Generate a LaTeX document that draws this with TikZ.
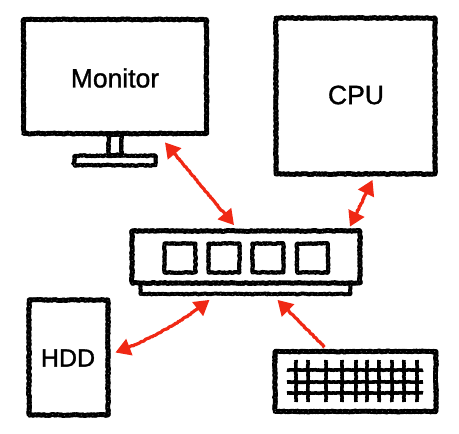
\documentclass[tikz,border=0pt]{standalone}
\usepackage{fontspec}
\setmainfont{Liberation Sans}
\newfontfamily\lblfont[FakeBold=1.2]{Liberation Sans}
\usetikzlibrary{arrows.meta,calc,decorations.pathmorphing}
\definecolor{redink}{RGB}{240,40,20}
\tikzset{
  sketch/.style={draw=black,line width=#1,line join=round,decorate,decoration={random steps,segment length=1.3pt,amplitude=0.55pt},
    preaction={draw=black,line width=#1-0.6pt,line join=round,decorate,decoration={random steps,segment length=3pt,amplitude=0.3pt}},
    postaction={draw=white,opacity=.5,line width=.6pt,dash pattern=on .8pt off 5.3pt,decorate,decoration={random steps,segment length=2pt,amplitude=1.1pt}}},
  sketch/.default=4.8pt,
  boxnode/.style={sketch,rectangle,inner sep=0pt},
  lbl/.style={font=\lblfont\fontsize{26.5}{30}\selectfont,text=black},
  twohead/.style={draw=redink,line width=3.2pt,line join=round,decorate,decoration={random steps,segment length=1.5pt,amplitude=0.45pt,pre length=13pt,post length=13pt},{Triangle[length=15pt,width=17pt,fill=redink]}-{Triangle[length=15pt,width=17pt,fill=redink]}},
  onehead/.style={draw=redink,line width=3.2pt,line join=round,decorate,decoration={random steps,segment length=1.5pt,amplitude=0.45pt,pre length=13pt},{Triangle[length=15pt,width=17pt,fill=redink]}-},
  keyline/.style={draw=black,line width=3.6pt,line join=round,decorate,decoration={random steps,segment length=1.5pt,amplitude=0.3pt}}
}
\begin{document}
\begin{tikzpicture}[x=1pt,y=-1pt]
\useasboundingbox (0,0) rectangle (459,434);
% Boxes
\node[boxnode,minimum width=183pt,minimum height=114pt] (monitor) at (115,76.5) {};
\node[lbl] (montext) at (115,78) {Monitor};
\node[boxnode,minimum width=159pt,minimum height=156pt] (cpu) at (355.5,96) {};
\node[lbl] (cputext) at (356,95) {CPU};
\node[boxnode,minimum width=79pt,minimum height=115pt] (hdd) at (68.5,357.5) {};
\node[lbl,font=\lblfont\fontsize{25}{30}\selectfont] (hddtext) at (68,358) {HDD};
\node[boxnode,minimum width=161pt,minimum height=60pt] (kbd) at (355.5,381.5) {};
% Monitor stand
\node[sketch=4.2pt,minimum width=13pt,minimum height=20pt,inner sep=0pt] (neck) at (115,145) {};
\node[sketch=4pt,minimum width=81pt,minimum height=9.5pt,inner sep=0pt] (stand) at (115,160.5) {};
% RAM
\node[sketch=3.8pt,minimum width=210pt,minimum height=11pt,inner sep=0pt] (rambase) at (245.5,288.5) {};
\node[boxnode,fill=white,minimum width=228pt,minimum height=52pt] (ram) at (246,257) {};
\foreach \n/\cx in {a/180,b/224,c/268,d/312.5}{
  \node[sketch=4pt,minimum width=31pt,minimum height=29pt,inner sep=0pt] (chip\n) at (\cx,258) {};
}
% Keyboard grid
\foreach \kx in {296,308,326,342,356,367,379,392,404,417}{
  \draw[keyline] (\kx,360) -- (\kx,402);
}
\foreach \ky in {370,382,393}{
  \draw[keyline] (287,\ky) -- (423,\ky);
}
% Connectors
\coordinate (mtip) at ($(monitor.south)+(50,6.5)$);
\coordinate (rtipa) at ($(ram.north)+(-12,-3.5)$);
\coordinate (ctip) at ($(cpu.south)+(17,3.5)$);
\coordinate (rtipb) at ($(ram.north)+(104,-2)$);
\coordinate (htip) at ($(hdd.east)+(5,-5)$);
\coordinate (rtipc) at ($(rambase.south)+(-36,4)$);
\coordinate (rtipd) at ($(rambase.south)+(32,4)$);
\coordinate (ktop) at ($(kbd.north)+(-31,-2)$);
\draw[twohead] (mtip) -- (rtipa);
\draw[twohead] (ctip) -- (rtipb);
\draw[twohead] (htip) .. controls (150,340) and (185,320) .. (rtipc);
\draw[onehead] (rtipd) -- (ktop);
\end{tikzpicture}
\end{document}
